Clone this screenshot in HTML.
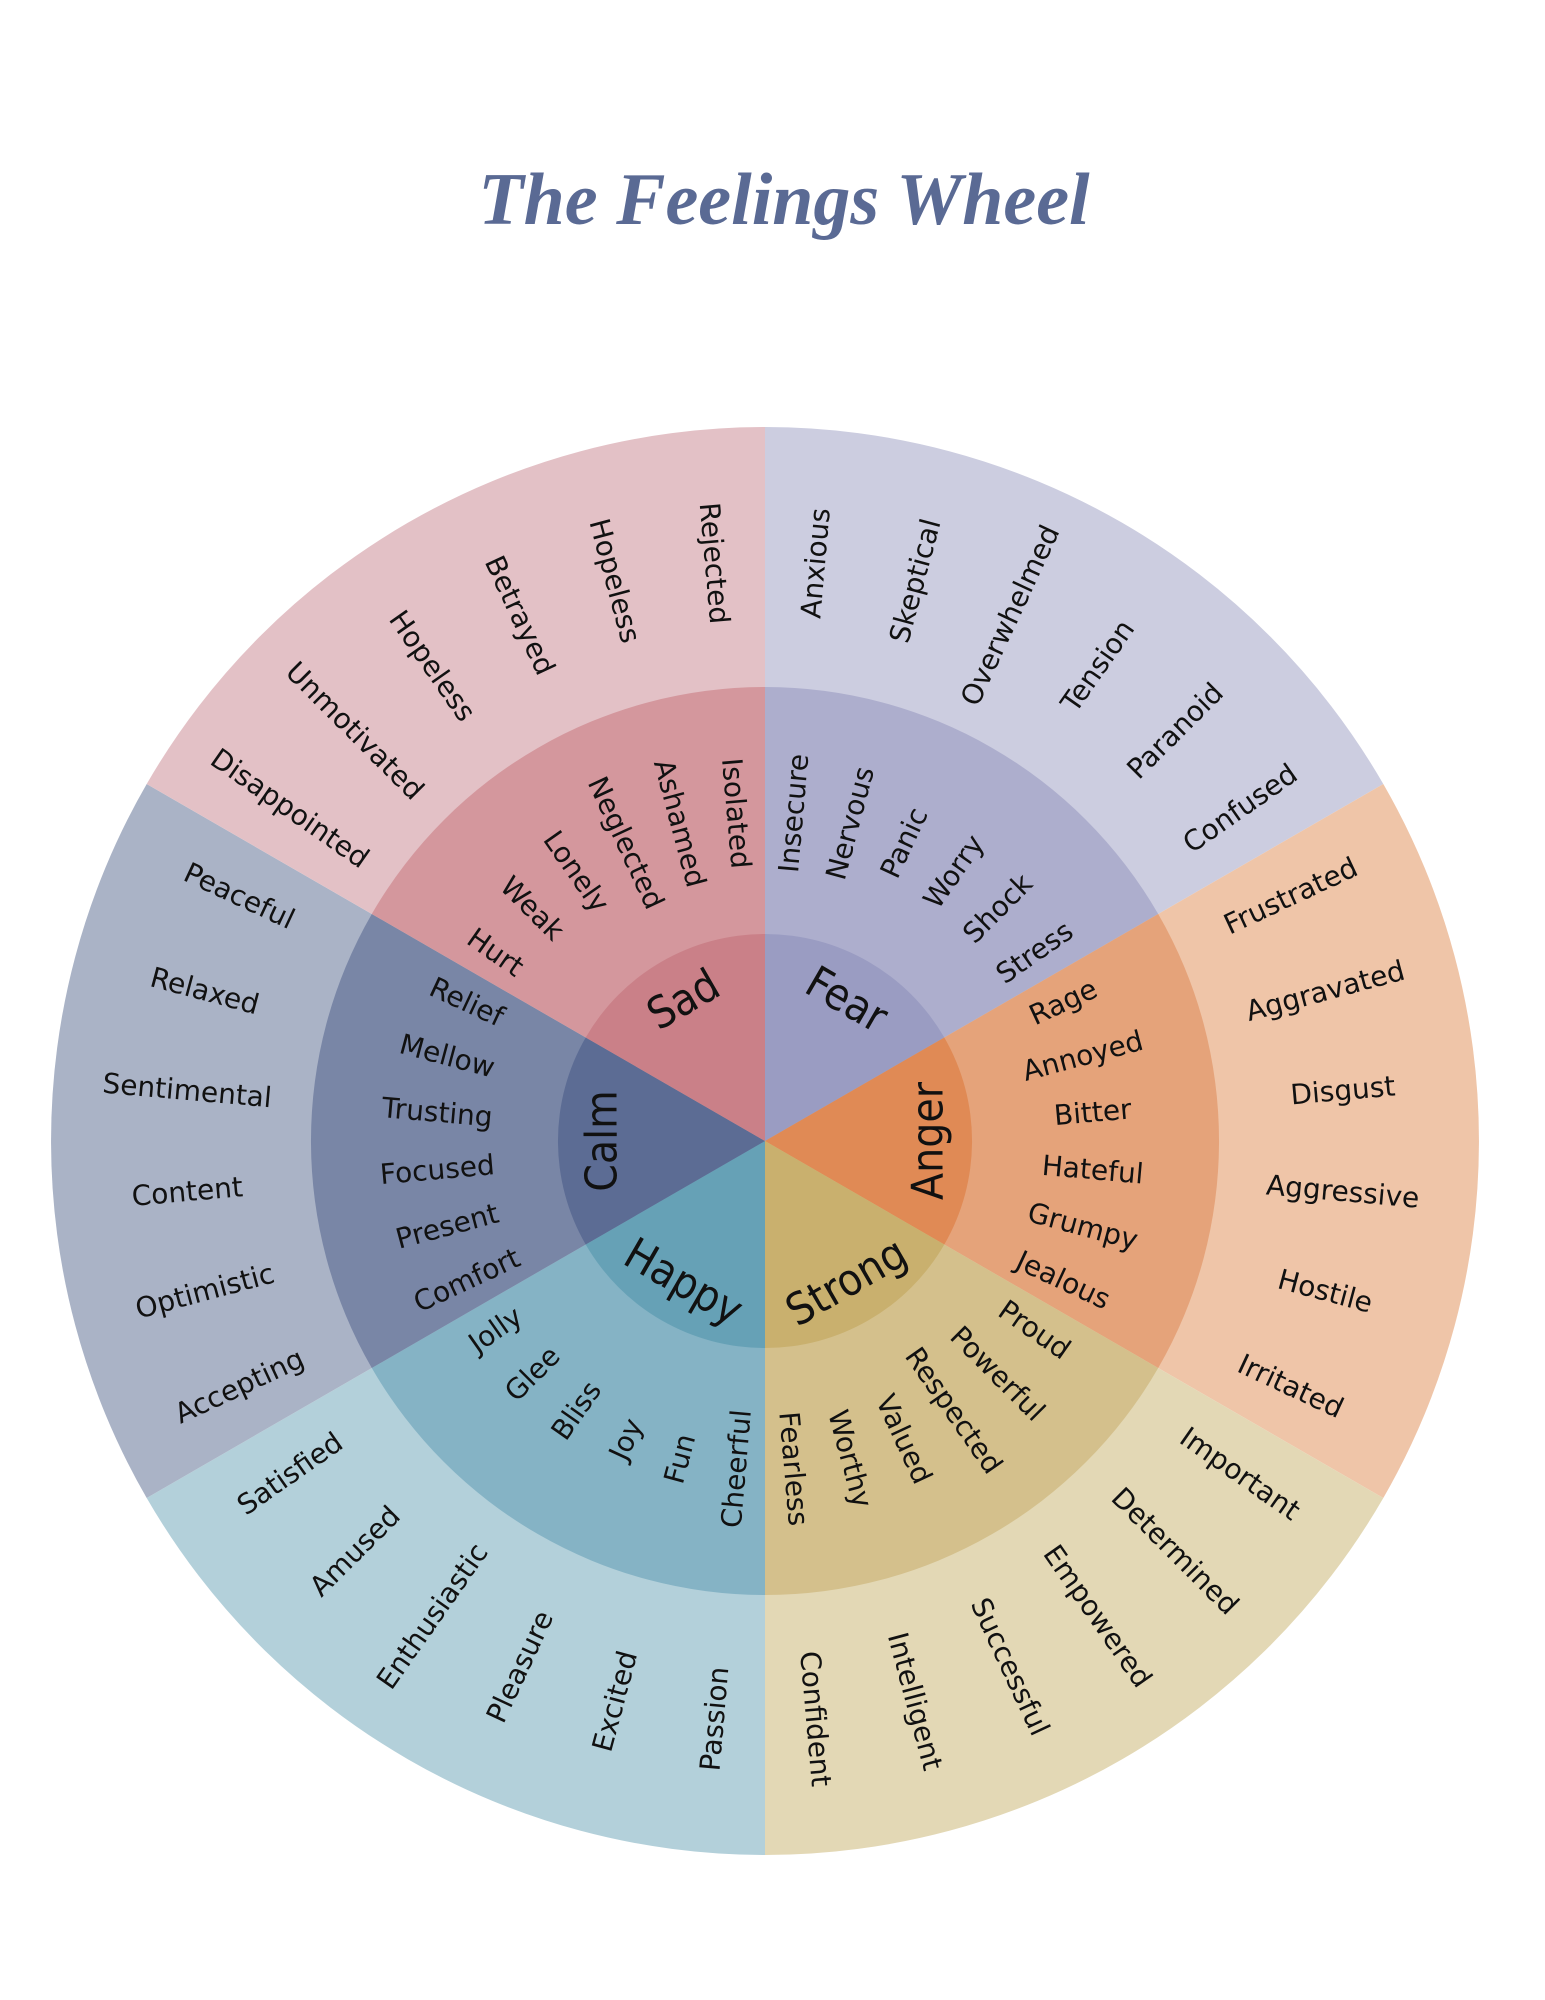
<!DOCTYPE html>
<html><head><meta charset="utf-8"><style>
html,body{margin:0;padding:0;background:#fff;}
svg{display:block;}
.o,.m{font-family:"DejaVu Sans","Liberation Sans",sans-serif;font-size:28px;fill:#111;}
.i{font-family:"Liberation Sans Narrow","DejaVu Sans Condensed","Liberation Sans",sans-serif;font-size:44px;fill:#111;}
</style></head><body>
<svg width="1545" height="2000" viewBox="0 0 1545 2000" xmlns="http://www.w3.org/2000/svg">
<text x="784" y="224" text-anchor="middle" font-family="Liberation Serif, serif" font-style="italic" font-weight="bold" font-size="74" fill="#5a6a94">The Feelings Wheel</text>
<path d="M765 1141 L1383.3 784 A714 714 0 0 0 765 427 Z" fill="#cccde0"/>
<path d="M765 1141 L1383.3 1498 A714 714 0 0 0 1383.3 784 Z" fill="#efc5a8"/>
<path d="M765 1141 L765 1855 A714 714 0 0 0 1383.3 1498 Z" fill="#e3d8b5"/>
<path d="M765 1141 L146.7 1498 A714 714 0 0 0 765 1855 Z" fill="#b3d0da"/>
<path d="M765 1141 L146.7 784 A714 714 0 0 0 146.7 1498 Z" fill="#aab3c6"/>
<path d="M765 1141 L765 427 A714 714 0 0 0 146.7 784 Z" fill="#e3c1c6"/>
<path d="M765 1141 L1158.2 914 A454 454 0 0 0 765 687 Z" fill="#adaecd"/>
<path d="M765 1141 L1158.2 1368 A454 454 0 0 0 1158.2 914 Z" fill="#e5a37a"/>
<path d="M765 1141 L765 1595 A454 454 0 0 0 1158.2 1368 Z" fill="#d4c08c"/>
<path d="M765 1141 L371.8 1368 A454 454 0 0 0 765 1595 Z" fill="#85b3c5"/>
<path d="M765 1141 L371.8 914 A454 454 0 0 0 371.8 1368 Z" fill="#7986a6"/>
<path d="M765 1141 L765 687 A454 454 0 0 0 371.8 914 Z" fill="#d4979d"/>
<path d="M765 1141 L944.3 1037.5 A207 207 0 0 0 765 934 Z" fill="#9a9cc2"/>
<path d="M765 1141 L944.3 1244.5 A207 207 0 0 0 944.3 1037.5 Z" fill="#e08a55"/>
<path d="M765 1141 L765 1348 A207 207 0 0 0 944.3 1244.5 Z" fill="#c9b06e"/>
<path d="M765 1141 L585.7 1244.5 A207 207 0 0 0 765 1348 Z" fill="#66a1b6"/>
<path d="M765 1141 L585.7 1037.5 A207 207 0 0 0 585.7 1244.5 Z" fill="#5c6c94"/>
<path d="M765 1141 L765 934 A207 207 0 0 0 585.7 1037.5 Z" fill="#ca8088"/>

<g text-anchor="middle" dominant-baseline="central">
<text class="i" transform="translate(765,1141) rotate(-60) translate(163,0) rotate(90)">Fear</text>
<text class="i" transform="translate(765,1141) rotate(0) translate(163,0) rotate(-90)">Anger</text>
<text class="i" transform="translate(765,1141) rotate(60) translate(163,0) rotate(-90)">Strong</text>
<text class="i" transform="translate(765,1141) rotate(120) translate(163,0) rotate(-90)">Happy</text>
<text class="i" transform="translate(765,1141) rotate(180) translate(163,0) rotate(90)">Calm</text>
<text class="i" transform="translate(765,1141) rotate(-120) translate(163,0) rotate(90)">Sad</text>

<text class="o" transform="translate(765,1141) rotate(-85) translate(580,0)">Anxious</text>
<text class="o" transform="translate(765,1141) rotate(-75) translate(580,0)">Skeptical</text>
<text class="o" transform="translate(765,1141) rotate(-65) translate(580,0)">Overwhelmed</text>
<text class="o" transform="translate(765,1141) rotate(-55) translate(580,0)">Tension</text>
<text class="o" transform="translate(765,1141) rotate(-45) translate(580,0)">Paranoid</text>
<text class="o" transform="translate(765,1141) rotate(-35) translate(580,0)">Confused</text>
<text class="o" transform="translate(765,1141) rotate(-25) translate(580,0)">Frustrated</text>
<text class="o" transform="translate(765,1141) rotate(-15) translate(580,0)">Aggravated</text>
<text class="o" transform="translate(765,1141) rotate(-5) translate(580,0)">Disgust</text>
<text class="o" transform="translate(765,1141) rotate(5) translate(580,0)">Aggressive</text>
<text class="o" transform="translate(765,1141) rotate(15) translate(580,0)">Hostile</text>
<text class="o" transform="translate(765,1141) rotate(25) translate(580,0)">Irritated</text>
<text class="o" transform="translate(765,1141) rotate(35) translate(580,0)">Important</text>
<text class="o" transform="translate(765,1141) rotate(45) translate(580,0)">Determined</text>
<text class="o" transform="translate(765,1141) rotate(55) translate(580,0)">Empowered</text>
<text class="o" transform="translate(765,1141) rotate(65) translate(580,0)">Successful</text>
<text class="o" transform="translate(765,1141) rotate(75) translate(580,0)">Intelligent</text>
<text class="o" transform="translate(765,1141) rotate(85) translate(580,0)">Confident</text>

<text class="m" transform="translate(765,1141) rotate(-85) translate(329,0)">Insecure</text>
<text class="m" transform="translate(765,1141) rotate(-75) translate(329,0)">Nervous</text>
<text class="m" transform="translate(765,1141) rotate(-65) translate(329,0)">Panic</text>
<text class="m" transform="translate(765,1141) rotate(-55) translate(329,0)">Worry</text>
<text class="m" transform="translate(765,1141) rotate(-45) translate(329,0)">Shock</text>
<text class="m" transform="translate(765,1141) rotate(-35) translate(329,0)">Stress</text>
<text class="m" transform="translate(765,1141) rotate(-25) translate(329,0)">Rage</text>
<text class="m" transform="translate(765,1141) rotate(-15) translate(329,0)">Annoyed</text>
<text class="m" transform="translate(765,1141) rotate(-5) translate(329,0)">Bitter</text>
<text class="m" transform="translate(765,1141) rotate(5) translate(329,0)">Hateful</text>
<text class="m" transform="translate(765,1141) rotate(15) translate(329,0)">Grumpy</text>
<text class="m" transform="translate(765,1141) rotate(25) translate(329,0)">Jealous</text>
<text class="m" transform="translate(765,1141) rotate(35) translate(329,0)">Proud</text>
<text class="m" transform="translate(765,1141) rotate(45) translate(329,0)">Powerful</text>
<text class="m" transform="translate(765,1141) rotate(55) translate(329,0)">Respected</text>
<text class="m" transform="translate(765,1141) rotate(65) translate(329,0)">Valued</text>
<text class="m" transform="translate(765,1141) rotate(75) translate(329,0)">Worthy</text>
<text class="m" transform="translate(765,1141) rotate(85) translate(329,0)">Fearless</text>

<text class="o" transform="translate(765,1141) rotate(95) translate(580,0) rotate(180)">Passion</text>
<text class="o" transform="translate(765,1141) rotate(105) translate(580,0) rotate(180)">Excited</text>
<text class="o" transform="translate(765,1141) rotate(115) translate(580,0) rotate(180)">Pleasure</text>
<text class="o" transform="translate(765,1141) rotate(125) translate(580,0) rotate(180)">Enthusiastic</text>
<text class="o" transform="translate(765,1141) rotate(135) translate(580,0) rotate(180)">Amused</text>
<text class="o" transform="translate(765,1141) rotate(145) translate(580,0) rotate(180)">Satisfied</text>
<text class="o" transform="translate(765,1141) rotate(155) translate(580,0) rotate(180)">Accepting</text>
<text class="o" transform="translate(765,1141) rotate(165) translate(580,0) rotate(180)">Optimistic</text>
<text class="o" transform="translate(765,1141) rotate(175) translate(580,0) rotate(180)">Content</text>
<text class="o" transform="translate(765,1141) rotate(185) translate(580,0) rotate(180)">Sentimental</text>
<text class="o" transform="translate(765,1141) rotate(195) translate(580,0) rotate(180)">Relaxed</text>
<text class="o" transform="translate(765,1141) rotate(205) translate(580,0) rotate(180)">Peaceful</text>
<text class="o" transform="translate(765,1141) rotate(215) translate(580,0) rotate(180)">Disappointed</text>
<text class="o" transform="translate(765,1141) rotate(225) translate(580,0) rotate(180)">Unmotivated</text>
<text class="o" transform="translate(765,1141) rotate(235) translate(580,0) rotate(180)">Hopeless</text>
<text class="o" transform="translate(765,1141) rotate(245) translate(580,0) rotate(180)">Betrayed</text>
<text class="o" transform="translate(765,1141) rotate(255) translate(580,0) rotate(180)">Hopeless</text>
<text class="o" transform="translate(765,1141) rotate(265) translate(580,0) rotate(180)">Rejected</text>

<text class="m" transform="translate(765,1141) rotate(95) translate(329,0) rotate(180)">Cheerful</text>
<text class="m" transform="translate(765,1141) rotate(105) translate(329,0) rotate(180)">Fun</text>
<text class="m" transform="translate(765,1141) rotate(115) translate(329,0) rotate(180)">Joy</text>
<text class="m" transform="translate(765,1141) rotate(125) translate(329,0) rotate(180)">Bliss</text>
<text class="m" transform="translate(765,1141) rotate(135) translate(329,0) rotate(180)">Glee</text>
<text class="m" transform="translate(765,1141) rotate(145) translate(329,0) rotate(180)">Jolly</text>
<text class="m" transform="translate(765,1141) rotate(155) translate(329,0) rotate(180)">Comfort</text>
<text class="m" transform="translate(765,1141) rotate(165) translate(329,0) rotate(180)">Present</text>
<text class="m" transform="translate(765,1141) rotate(175) translate(329,0) rotate(180)">Focused</text>
<text class="m" transform="translate(765,1141) rotate(185) translate(329,0) rotate(180)">Trusting</text>
<text class="m" transform="translate(765,1141) rotate(195) translate(329,0) rotate(180)">Mellow</text>
<text class="m" transform="translate(765,1141) rotate(205) translate(329,0) rotate(180)">Relief</text>
<text class="m" transform="translate(765,1141) rotate(215) translate(329,0) rotate(180)">Hurt</text>
<text class="m" transform="translate(765,1141) rotate(225) translate(329,0) rotate(180)">Weak</text>
<text class="m" transform="translate(765,1141) rotate(235) translate(329,0) rotate(180)">Lonely</text>
<text class="m" transform="translate(765,1141) rotate(245) translate(329,0) rotate(180)">Neglected</text>
<text class="m" transform="translate(765,1141) rotate(255) translate(329,0) rotate(180)">Ashamed</text>
<text class="m" transform="translate(765,1141) rotate(265) translate(329,0) rotate(180)">Isolated</text>
</g>
</svg>
</body></html>
